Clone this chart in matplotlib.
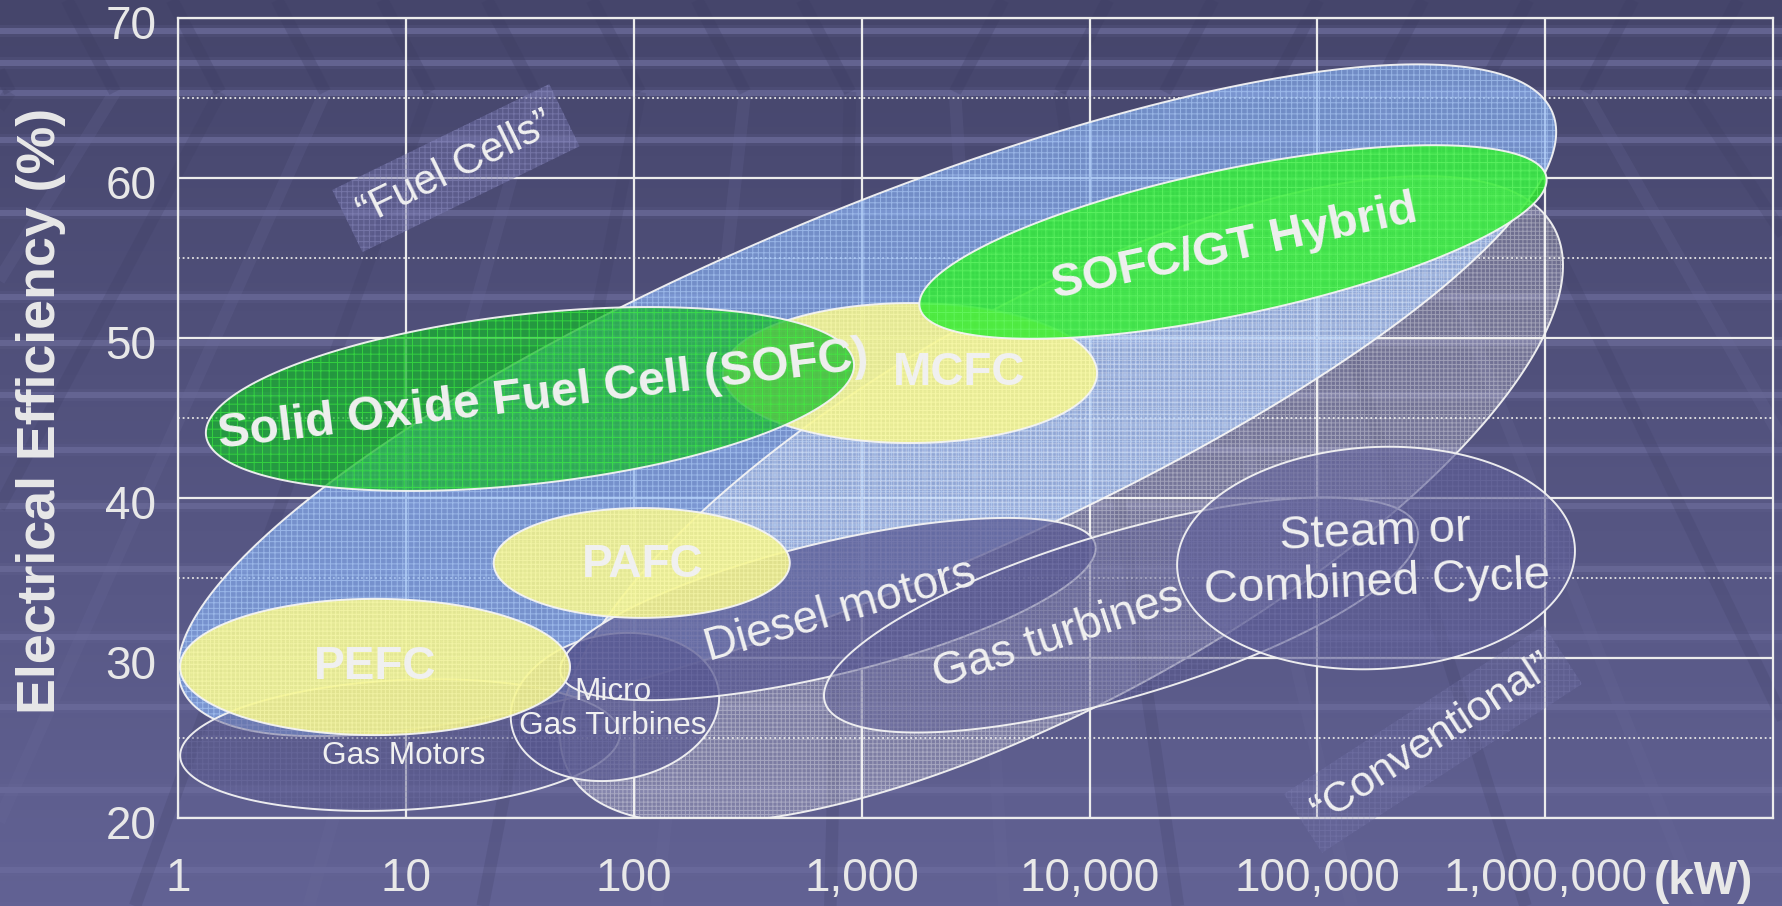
import numpy as np
import matplotlib
matplotlib.use("Agg")
import matplotlib.pyplot as plt
from matplotlib.patches import Polygon, Rectangle
from matplotlib.ticker import NullLocator
from matplotlib.colors import LinearSegmentedColormap
from matplotlib.transforms import ScaledTranslation

W, H, DPI = 1783, 906, 100
plt.rcParams['font.family'] = ['Liberation Sans', 'DejaVu Sans']
plt.rcParams['hatch.linewidth'] = 0.7

# axis values
x_ticks = [1, 10, 100, 1000, 10000, 100000, 1000000]
x_tick_labels = ['1', '10', '100', '1,000', '10,000', '100,000', '1,000,000']
y_ticks = [20, 30, 40, 50, 60, 70]
y_minor = [25, 35, 45, 55, 65]

# technology regions: centre (kW, %), half axes in decades of the power axis, tilt on screen
region_names = ['Fuel Cells', 'Conventional', 'Gas Motors', 'Micro Gas Turbines',
                'Diesel motors', 'Gas turbines', 'Steam or Combined Cycle',
                'PEFC', 'PAFC', 'MCFC', 'SOFC', 'SOFC/GT Hybrid']
center_kw = [1054, 7517, 9.38, 82.4, 710, 13720, 180700, 7.29, 108, 1626, 34.9, 42560]
center_eff = [46.09, 39.87, 24.54, 26.92, 33.04, 32.67, 36.23, 29.42, 35.92, 47.79, 46.17, 55.98]
half_major = [3.263, 2.47, 0.966, 0.461, 1.207, 1.355, 0.874, 0.856, 0.650, 0.821, 1.431, 1.405]
half_minor = [0.823, 0.875, 0.285, 0.320, 0.290, 0.361, 0.487, 0.299, 0.241, 0.307, 0.373, 0.320]
tilt_deg = [22.8, 29.0, 3, 10, 13.6, 16.4, 3, 0, 0, 0, 6.4, 11.8]

label_text = ['\u201cFuel Cells\u201d', '\u201cConventional\u201d', 'Gas Motors',
              'Micro\nGas Turbines', 'Diesel motors', 'Gas turbines',
              'Steam or\nCombined Cycle', 'PEFC', 'PAFC', 'MCFC',
              'Solid Oxide Fuel Cell (SOFC)', 'SOFC/GT Hybrid']
label_kw = [16.5, 321400, 9.77, 80.5, 802, 7260, 180800, 7.29, 108.9, 2670, 40, 43450]
label_eff = [60.6, 24.92, 23.86, 26.8, 32.9, 31.3, 36.2, 29.39, 35.8, 47.8, 46.36, 55.6]

# look of each region
region_style = {
    'Fuel Cells':   dict(fc='#86aef0', fa=0.68, hc='#b8d6ff', ha=0.55, hatch='+++', z=2),
    'Conventional': dict(fc='#ffffff', fa=0.2, hc='#ffffff', ha=0.32, hatch='++++', z=3),
    'Gas Motors':   dict(fc='#5a5a8e', fa=0.45, hc='#7c7cb0', ha=0.3, hatch='+++', z=4),
    'Micro Gas Turbines': dict(fc='#56568e', fa=0.7, hc='#7c7cb0', ha=0.3, hatch='+++', z=5),
    'Diesel motors': dict(fc='#555590', fa=0.72, hc='#7c7cb0', ha=0.35, hatch='+++', z=6),
    'Gas turbines': dict(fc='#58588f', fa=0.45, hc='#8080b4', ha=0.35, hatch='+++', z=7),
    'Steam or Combined Cycle': dict(fc='#5f5f98', fa=0.6, hc='#7c7cb0', ha=0.3, hatch='+++', z=8),
    'PEFC': dict(fc='#f4f48a', fa=0.86, hc='#ffffb4', ha=0.5, hatch='++++', z=9),
    'PAFC': dict(fc='#f4f48a', fa=0.86, hc='#ffffb4', ha=0.5, hatch='++++', z=9),
    'MCFC': dict(fc='#f4f48a', fa=0.86, hc='#ffffb4', ha=0.5, hatch='++++', z=10),
    'SOFC': dict(fc='#14b52a', fa=0.72, hc='#40ff40', ha=0.55, hatch='++', z=11),
    'SOFC/GT Hybrid': dict(fc='#30ea30', fa=0.84, hc='#70ff70', ha=0.55, hatch='++', z=12),
}
label_style = [
    dict(size=30, weight='normal', rot=26, box=0.45),
    dict(size=31, weight='normal', rot=33, box=0.22),
    dict(size=22.8, weight='normal', rot=0, box=0),
    dict(size=22.7, weight='normal', rot=0, box=0),
    dict(size=33, weight='normal', rot=16, box=0),
    dict(size=33, weight='normal', rot=18, box=0),
    dict(size=34, weight='normal', rot=2.5, box=0),
    dict(size=33, weight='bold', rot=0, box=0),
    dict(size=33, weight='bold', rot=0, box=0),
    dict(size=33, weight='bold', rot=0, box=0),
    dict(size=34.5, weight='bold', rot=7, box=0),
    dict(size=34, weight='bold', rot=12, box=0),
]

fig = plt.figure(figsize=(W / DPI, H / DPI), dpi=DPI)

# slide background: vertical gradient, light horizontal bars and receding diagonals
bg = fig.add_axes([0, 0, 1, 1], zorder=-10)
bg.set_xlim(0, W); bg.set_ylim(H, 0); bg.axis('off')
cmap = LinearSegmentedColormap.from_list('slide', ['#45456b', '#626294'])
bg.imshow(np.linspace(0, 1, 256)[:, None], extent=[0, W, H, 0], cmap=cmap, aspect='auto')
for yb in [31, 63, 93, 140, 213, 297, 343, 395, 450, 506, 569, 637, 707, 790, 870]:
    fade = 1.0 - 0.45 * yb / H
    bg.add_patch(Rectangle((0, yb - 6), W, 12, color='#7a7aac', alpha=0.12 * fade, lw=0))
    bg.add_patch(Rectangle((0, yb - 3), W, 6, color='#7c7cae', alpha=0.5 * fade, lw=0))
vx, vy = 880, -1150
for k, x92 in enumerate(np.arange(10, 1800, 105)):
    xb = vx + (x92 - vx) * (H - vy) / (92 - vy)
    col = '#3b3b60' if k % 2 == 0 else '#6c6c9c'
    bg.plot([x92, xb], [92, H], color=col, lw=9, alpha=0.2, solid_capstyle='butt')
    side = -1 if x92 < vx else 1
    bg.plot([x92, x92 + side * 48], [92, 0], color='#3b3b60', lw=9, alpha=0.25,
            solid_capstyle='butt')

ax = fig.add_axes([178.5 / W, 1 - 817.7 / H, 1594.6 / W, 800 / H])
ax.set_facecolor('none')
ax.set_xscale('log')
ax.set_xlim(1, 1e7)
ax.set_ylim(20, 70)
ax.set_axisbelow(True)
ax.set_xticks(x_ticks, x_tick_labels)
ax.xaxis.set_minor_locator(NullLocator())
ax.set_yticks(y_ticks)
ax.set_yticks(y_minor, minor=True)
ax.grid(True, which='major', color='#ececec', lw=1.6)
ax.grid(True, which='minor', axis='y', color='#e4e4e4', lw=1.3, linestyle=(0, (1, 1.6)))
ax.tick_params(which='both', length=0, colors='#e8e8e8')
ax.tick_params(axis='x', labelsize=33, pad=28)
ax.tick_params(axis='y', labelsize=33, pad=16)
for lab in ax.get_yticklabels():
    lab.set_transform(lab.get_transform() + ScaledTranslation(0, -0.045, fig.dpi_scale_trans))
for sp in ax.spines.values():
    sp.set_color('#ececec'); sp.set_linewidth(1.6)


def region_outline(kw, eff, a, b, tilt, n=400):
    # a, b measured in decades of the power axis, applied isotropically on screen
    p0 = ax.transData.transform((kw, eff))
    scale = ax.transData.transform((kw * 10, eff))[0] - p0[0]
    t = np.linspace(0, 2 * np.pi, n)
    ex, ey = a * scale * np.cos(t), b * scale * np.sin(t)
    th = np.deg2rad(tilt)
    dx = ex * np.cos(th) - ey * np.sin(th)
    dy = ex * np.sin(th) + ey * np.cos(th)
    return ax.transData.inverted().transform(np.column_stack([p0[0] + dx, p0[1] + dy]))


for name, kw, eff, a, b, tl in zip(region_names, center_kw, center_eff,
                                    half_major, half_minor, tilt_deg):
    st = region_style[name]
    pts = region_outline(kw, eff, a, b, tl)
    ax.add_patch(Polygon(pts, closed=True, facecolor=st['fc'], alpha=st['fa'],
                         edgecolor='none', lw=0, zorder=st['z']))
    ax.add_patch(Polygon(pts, closed=True, facecolor='none', edgecolor=st['hc'],
                         alpha=st['ha'], hatch=st['hatch'], lw=0, zorder=st['z']))
    ax.add_patch(Polygon(pts, closed=True, facecolor='none', edgecolor='#f4f4f4',
                         lw=1.4, alpha=0.95, zorder=st['z']))

for txt, kw, eff, ls in zip(label_text, label_kw, label_eff, label_style):
    kwargs = {}
    if ls['box']:
        kwargs['bbox'] = dict(boxstyle='square,pad=0.35', fc='#7272aa', ec='#9494c8',
                              lw=0, alpha=ls['box'], hatch='+++')
    ax.text(kw, eff, txt, rotation=ls['rot'], rotation_mode='anchor', ha='center',
            va='center', fontsize=ls['size'], fontweight=ls['weight'], color='#f0f0f0',
            zorder=20, **kwargs)

fig.text(1654 / W, 1 - 882 / H, '(kW)', fontsize=33, fontweight='bold', color='#e8e8e8',
         ha='left', va='center')
fig.text(41 / W, 1 - 411 / H, 'Electrical Efficiency (%)', fontsize=38.7, fontweight='bold',
         color='#e8e8e8', rotation=90, ha='center', va='center')

fig.savefig('out.png', dpi=DPI)
